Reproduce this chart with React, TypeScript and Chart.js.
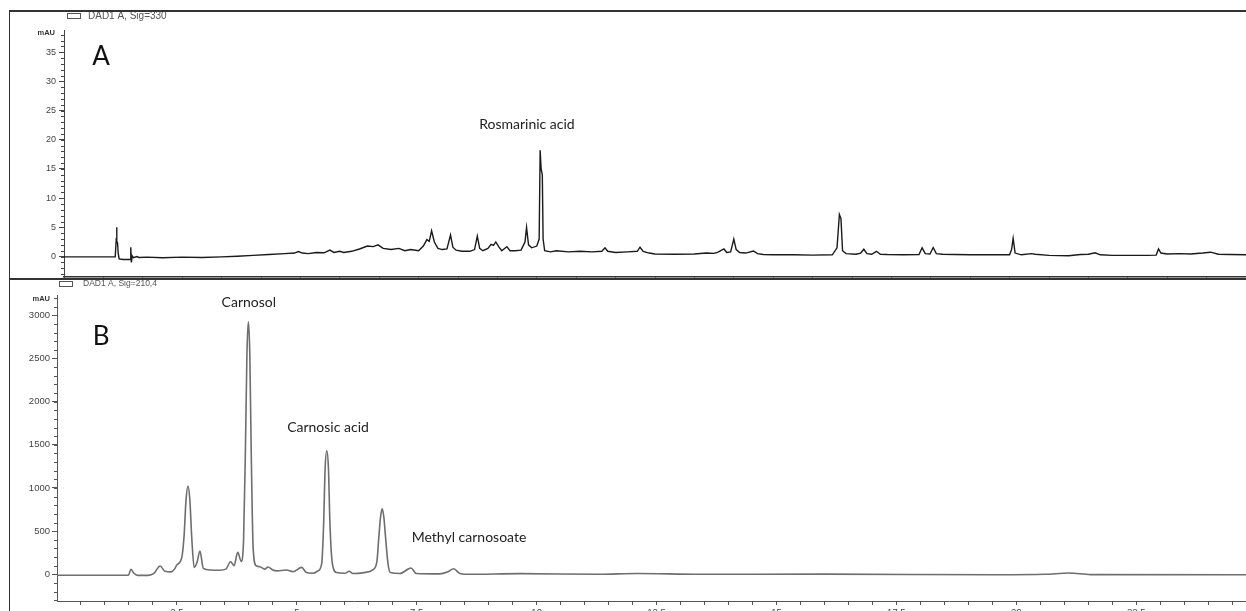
import React, { useEffect, useRef } from "react";
import { Chart, registerables } from "chart.js";

Chart.register(...registerables);

// ---------------- Panel A : DAD1 A, Sig=330 ----------------
const timeA: number[] = [
  0, 1.3, 1.325, 1.335, 1.345, 1.36, 1.375, 1.4, 1.5, 1.68,
  1.695, 1.71, 1.73, 1.76, 1.85, 1.9, 2.1, 2.5, 3.0, 3.5,
  4.0, 4.4, 4.8, 5.2, 5.6, 5.85, 5.95, 6.05, 6.2, 6.4,
  6.6, 6.75, 6.85, 7.0, 7.1, 7.3, 7.5, 7.7, 7.85, 7.97,
  8.1, 8.3, 8.5, 8.65, 8.8, 9.0, 9.12, 9.21, 9.27, 9.33,
  9.4, 9.49, 9.6, 9.72, 9.81, 9.87, 9.95, 10.1, 10.3, 10.42,
  10.49, 10.55, 10.63, 10.76, 10.84, 10.9, 10.96, 11.04, 11.11, 11.24,
  11.32, 11.45, 11.6, 11.7, 11.74, 11.79, 11.87, 12.0, 12.06, 12.085,
  12.11, 12.14, 12.16, 12.2, 12.35, 12.5, 12.8, 13.1, 13.4, 13.65,
  13.73, 13.8, 14.0, 14.3, 14.55, 14.62, 14.7, 14.85, 15.0, 15.5,
  16.0, 16.3, 16.5, 16.6, 16.75, 16.82, 16.92, 17.0, 17.06, 17.15,
  17.3, 17.5, 17.6, 17.75, 18.0, 18.5, 19.0, 19.5, 19.62, 19.68,
  19.72, 19.76, 19.85, 20.1, 20.22, 20.3, 20.38, 20.5, 20.62, 20.72,
  20.9, 21.3, 21.7, 21.78, 21.86, 21.98, 22.06, 22.14, 22.3, 22.6,
  23.0, 23.5, 24.0, 24.05, 24.09, 24.14, 24.3, 24.55, 24.65, 25.0,
  25.5, 25.8, 26.0, 26.17, 26.3, 26.6, 27.0, 27.5, 27.72, 27.78,
  27.84, 28.0, 28.3, 28.6, 28.9, 29.1, 29.3, 29.6, 30.0,
];
const signalA: number[] = [
  -0.05, -0.05, 2.8, 5.0, 2.6, 2.3, 0.6, -0.4, -0.5, -0.5,
  1.6, -1.0, 0.1, -0.2, 0.0, -0.15, -0.1, -0.2, -0.1, -0.15,
  -0.05, 0.05, 0.2, 0.35, 0.5, 0.6, 0.85, 0.6, 0.5, 0.7,
  0.65, 1.1, 0.7, 0.9, 0.7, 0.9, 1.3, 1.8, 1.7, 2.0,
  1.4, 1.2, 1.4, 1.0, 1.2, 1.0, 1.8, 2.9, 2.6, 4.4,
  2.5, 1.4, 1.2, 1.3, 3.7, 1.6, 1.1, 0.9, 0.9, 1.2,
  3.5, 1.4, 1.0, 1.4, 2.1, 1.9, 2.5, 1.6, 1.0, 1.7,
  1.0, 1.0, 1.1, 2.5, 5.0, 2.0, 1.5, 1.8, 3.0, 18.2,
  15.0, 14.0, 3.0, 1.0, 0.8, 1.0, 0.8, 0.9, 0.8, 0.9,
  1.5, 0.9, 0.7, 0.8, 0.9, 1.6, 0.9, 0.6, 0.45, 0.4,
  0.45, 0.6, 0.55, 0.75, 1.3, 0.7, 0.8, 3.0, 1.2, 0.7,
  0.6, 0.95, 0.5, 0.35, 0.3, 0.3, 0.25, 0.3, 1.5, 7.2,
  6.5, 1.0, 0.5, 0.4, 0.6, 1.25, 0.5, 0.4, 0.9, 0.4,
  0.35, 0.3, 0.35, 1.5, 0.5, 0.45, 1.55, 0.5, 0.4, 0.35,
  0.3, 0.3, 0.3, 1.2, 3.1, 0.6, 0.3, 0.5, 0.4, 0.2,
  0.15, 0.35, 0.4, 0.65, 0.3, 0.2, 0.2, 0.2, 0.25, 1.3,
  0.6, 0.45, 0.5, 0.45, 0.6, 0.75, 0.4, 0.35, 0.3,
];
const yTicksA: number[] = [0, 5, 10, 15, 20, 25, 30, 35];
const xTicksA: number[] = [
  1, 2, 3, 4, 5, 6, 7, 8, 9, 10, 11, 12, 13, 14, 15,
  16, 17, 18, 19, 20, 21, 22, 23, 24, 25, 26, 27, 28, 29,
];
const peakNamesA: string[] = ["Rosmarinic acid"];
const peakTextPosA: number[][] = [[11.75, 22.7]];

// ---------------- Panel B : DAD1 A, Sig=210,4 ----------------
const timeB: number[] = [
  0, 1.49, 1.54, 1.6, 1.68, 1.9, 2.02, 2.15, 2.25, 2.38,
  2.45, 2.5, 2.6, 2.65, 2.69, 2.73, 2.77, 2.81, 2.86, 2.92,
  2.98, 3.05, 3.2, 3.4, 3.52, 3.62, 3.69, 3.77, 3.84, 3.89,
  3.93, 3.96, 3.99, 4.02, 4.05, 4.09, 4.15, 4.23, 4.33, 4.4,
  4.5, 4.58, 4.78, 4.92, 5.1, 5.2, 5.33, 5.44, 5.52, 5.56,
  5.59, 5.625, 5.66, 5.69, 5.74, 5.83, 6.0, 6.09, 6.17, 6.4,
  6.59, 6.67, 6.71, 6.745, 6.78, 6.815, 6.85, 6.9, 6.95, 7.15,
  7.38, 7.49, 7.98, 8.15, 8.27, 8.4, 8.6, 9.65, 11.3, 12.1,
  13.4, 16.0, 19.6, 20.6, 21.1, 21.55, 24.79,
];
const signalB: number[] = [
  -10, -10, 58, 15, -12, -12, 10, 96, 35, 28,
  60, 110, 190, 450, 860, 1022, 860, 420, 80, 140,
  270, 70, 50, 48, 60, 146, 100, 255, 150, 400,
  1500, 2550, 2924, 2550, 1400, 300, 100, 88, 60, 85,
  50, 40, 50, 30, 80, 20, 12, 40, 130, 600,
  1220, 1430, 1220, 600, 130, 20, 12, 35, 10, 20,
  55, 150, 430, 660, 760, 660, 430, 130, 20, 10,
  73, 10, 5, 30, 65, 10, 0, 8, 0, 10,
  0, 2, -5, 0, 15, -3, -5,
];
const yTicksB: number[] = [0, 500, 1000, 1500, 2000, 2500, 3000];
const xTicksB: number[] = [
  0.5, 1, 1.5, 2, 2.5, 3, 3.5, 4, 4.5, 5, 5.5, 6, 6.5, 7, 7.5, 8, 8.5, 9, 9.5, 10,
  10.5, 11, 11.5, 12, 12.5, 13, 13.5, 14, 14.5, 15, 15.5, 16, 16.5, 17, 17.5, 18,
  18.5, 19, 19.5, 20, 20.5, 21, 21.5, 22, 22.5, 23, 23.5, 24, 24.5,
];
const xLabelsB: number[] = [2.5, 5, 7.5, 10, 12.5, 15, 17.5, 20, 22.5];
const peakNamesB: string[] = ["Carnosol", "Carnosic acid", "Methyl carnosoate"];
const peakTextPosB: number[][] = [[4.0, 3152], [5.65, 1705], [8.59, 432]];

type PanelCfg = {
  id: string;
  panelLetter: string;
  letterPos: number[];
  legendText: string;
  legendFont: number;
  legendBox: number[]; // x, y, w, h in canvas px
  legendTextX: number;
  mauX: number;
  mauY: number;
  minorStep: number;
  minorFrom: number;
  minorTo: number;
  axisColor: string;
  names: string[];
  namePos: number[][];
};

const makeOverlay = (cfg: PanelCfg) => ({
  id: "overlay" + cfg.id,
  afterDraw(chart: any) {
    const ctx = chart.ctx as CanvasRenderingContext2D;
    const xs = chart.scales.x;
    const ys = chart.scales.y;
    ctx.save();
    // minor ticks on the y axis
    ctx.strokeStyle = cfg.axisColor;
    ctx.lineWidth = 1;
    const n = Math.round((cfg.minorTo - cfg.minorFrom) / cfg.minorStep);
    for (let i = 0; i <= n; i++) {
      const v = cfg.minorFrom + i * cfg.minorStep;
      const py = Math.round(ys.getPixelForValue(v)) + 0.5;
      ctx.beginPath();
      ctx.moveTo(xs.left - 3, py);
      ctx.lineTo(xs.left, py);
      ctx.stroke();
    }
    // mAU unit
    ctx.fillStyle = "#333";
    ctx.font = "bold 7.5px 'Liberation Sans', Arial, sans-serif";
    ctx.textAlign = "right";
    ctx.textBaseline = "middle";
    ctx.fillText("mAU", cfg.mauX, cfg.mauY);
    // legend box + text
    const [bx, by, bw, bh] = cfg.legendBox;
    ctx.strokeStyle = "#555";
    ctx.lineWidth = 1;
    ctx.strokeRect(bx + 0.5, by + 0.5, bw, bh);
    ctx.fillStyle = "#555";
    ctx.font = cfg.legendFont + "px 'Liberation Sans', Arial, sans-serif";
    ctx.textAlign = "left";
    ctx.fillText(cfg.legendText, cfg.legendTextX, by + bh / 2 + 0.5);
    // panel letter
    ctx.fillStyle = "#111";
    ctx.font = "26px Lato, 'Open Sans', sans-serif";
    ctx.textAlign = "center";
    ctx.fillText(cfg.panelLetter, xs.getPixelForValue(cfg.letterPos[0]), ys.getPixelForValue(cfg.letterPos[1]));
    // compound names
    ctx.fillStyle = "#222";
    ctx.font = "14px Lato, 'Open Sans', sans-serif";
    cfg.names.forEach((name, i) => {
      const p = cfg.namePos[i];
      ctx.fillText(name, xs.getPixelForValue(p[0]), ys.getPixelForValue(p[1]));
    });
    ctx.restore();
  },
});

const tickFontA = { family: "'Liberation Sans', Arial, sans-serif", size: 9 };
const tickFontB = { family: "'Liberation Sans', Arial, sans-serif", size: 9.5 };

function buildA(canvas: HTMLCanvasElement) {
  const pts = timeA.map((t, i) => ({ x: t, y: signalA[i] }));
  return new Chart(canvas, {
    type: "line",
    data: {
      datasets: [
        {
          data: pts,
          borderColor: "#1a1a1a",
          borderWidth: 1.4,
          pointRadius: 0,
          tension: 0,
          fill: false,
        },
      ],
    },
    options: {
      responsive: false,
      animation: false,
      devicePixelRatio: 1,
      layout: { padding: { top: 30, left: 0, right: 0, bottom: 0 } },
      plugins: { legend: { display: false }, tooltip: { enabled: false } },
      scales: {
        x: {
          type: "linear",
          min: 0,
          max: 30,
          afterBuildTicks: (s: any) => {
            s.ticks = xTicksA.map((v) => ({ value: v }));
          },
          afterFit: (s: any) => {
            s.height = 2;
            s.paddingLeft = 0;
            s.paddingRight = 0;
          },
          grid: { drawOnChartArea: false, tickLength: 4, color: "#333" },
          border: { color: "#333", width: 1.5 },
          ticks: { callback: () => "", font: tickFontA },
        },
        y: {
          type: "linear",
          min: -3.5,
          max: 38.8,
          afterBuildTicks: (s: any) => {
            s.ticks = yTicksA.map((v) => ({ value: v }));
          },
          afterFit: (s: any) => {
            s.width = 64;
            s.paddingTop = 0;
            s.paddingBottom = 0;
          },
          grid: { drawOnChartArea: false, tickLength: 5, color: "#444" },
          border: { color: "#444", width: 1 },
          ticks: {
            font: tickFontA,
            color: "#444",
            padding: 3,
            callback: (v: any) => String(v),
          },
        },
      },
    },
    plugins: [
      makeOverlay({
        id: "A",
        panelLetter: "A",
        letterPos: [0.94, 34.3],
        legendText: "DAD1 A, Sig=330",
        legendFont: 10,
        legendBox: [67, 13, 13, 5],
        legendTextX: 88,
        mauX: 55,
        mauY: 33,
        minorStep: 1,
        minorFrom: -3,
        minorTo: 38,
        axisColor: "#444",
        names: peakNamesA,
        namePos: peakTextPosA,
      }),
    ],
  } as any);
}

function buildB(canvas: HTMLCanvasElement) {
  const pts = timeB.map((t, i) => ({ x: t, y: signalB[i] }));
  return new Chart(canvas, {
    type: "line",
    data: {
      datasets: [
        {
          data: pts,
          borderColor: "#6e6e6e",
          borderWidth: 1.6,
          pointRadius: 0,
          cubicInterpolationMode: "monotone",
          fill: false,
        },
      ],
    },
    options: {
      responsive: false,
      animation: false,
      devicePixelRatio: 1,
      layout: { padding: { top: 15, left: 0, right: 0, bottom: 0 } },
      plugins: { legend: { display: false }, tooltip: { enabled: false } },
      scales: {
        x: {
          type: "linear",
          min: 0,
          max: 24.79,
          afterBuildTicks: (s: any) => {
            s.ticks = xTicksB.map((v) => ({ value: v }));
          },
          afterFit: (s: any) => {
            s.height = 10;
            s.paddingLeft = 0;
            s.paddingRight = 0;
          },
          grid: { drawOnChartArea: false, tickLength: 4, color: "#555" },
          border: { color: "#555", width: 1 },
          ticks: {
            font: tickFontB,
            color: "#444",
            padding: 2,
            maxRotation: 0,
            autoSkip: false,
            callback: (v: any) => (xLabelsB.includes(Number(v)) ? String(v) : ""),
          },
        },
        y: {
          type: "linear",
          min: -309,
          max: 3235,
          afterBuildTicks: (s: any) => {
            s.ticks = yTicksB.map((v) => ({ value: v }));
          },
          afterFit: (s: any) => {
            s.width = 57;
            s.paddingTop = 0;
            s.paddingBottom = 0;
          },
          grid: { drawOnChartArea: false, tickLength: 5, color: "#555" },
          border: { color: "#555", width: 1 },
          ticks: {
            font: tickFontB,
            color: "#444",
            padding: 2,
            callback: (v: any) => String(v),
          },
        },
      },
    },
    plugins: [
      makeOverlay({
        id: "B",
        panelLetter: "B",
        letterPos: [0.92, 2752],
        legendText: "DAD1 A, Sig=210,4",
        legendFont: 8.5,
        legendBox: [59, 1, 13, 5],
        legendTextX: 83,
        mauX: 50,
        mauY: 19,
        minorStep: 100,
        minorFrom: -300,
        minorTo: 3200,
        axisColor: "#555",
        names: peakNamesB,
        namePos: peakTextPosB,
      }),
    ],
  } as any);
}

export default function App() {
  const refA = useRef<HTMLCanvasElement | null>(null);
  const refB = useRef<HTMLCanvasElement | null>(null);

  useEffect(() => {
    const a = refA.current ? buildA(refA.current) : null;
    const b = refB.current ? buildB(refB.current) : null;
    return () => {
      a && a.destroy();
      b && b.destroy();
    };
  }, []);

  return (
    <div
      style={{
        position: "fixed",
        left: 0,
        top: 0,
        width: 1246,
        height: 611,
        background: "#fff",
        overflow: "hidden",
      }}
    >
      <canvas
        ref={refA}
        width={1246}
        height={279}
        style={{ position: "absolute", left: 0, top: 0, width: 1246, height: 279 }}
      />
      <canvas
        ref={refB}
        width={1246}
        height={331}
        style={{ position: "absolute", left: 0, top: 280, width: 1246, height: 331 }}
      />
      <div style={{ position: "absolute", left: 9, top: 10, width: 1237, height: 0, borderTop: "2px solid #333" }} />
      <div style={{ position: "absolute", left: 9, top: 10, width: 0, height: 601, borderLeft: "1px solid #333" }} />
      <div style={{ position: "absolute", left: 9, top: 278, width: 1237, height: 0, borderTop: "2px solid #333" }} />
    </div>
  );
}
